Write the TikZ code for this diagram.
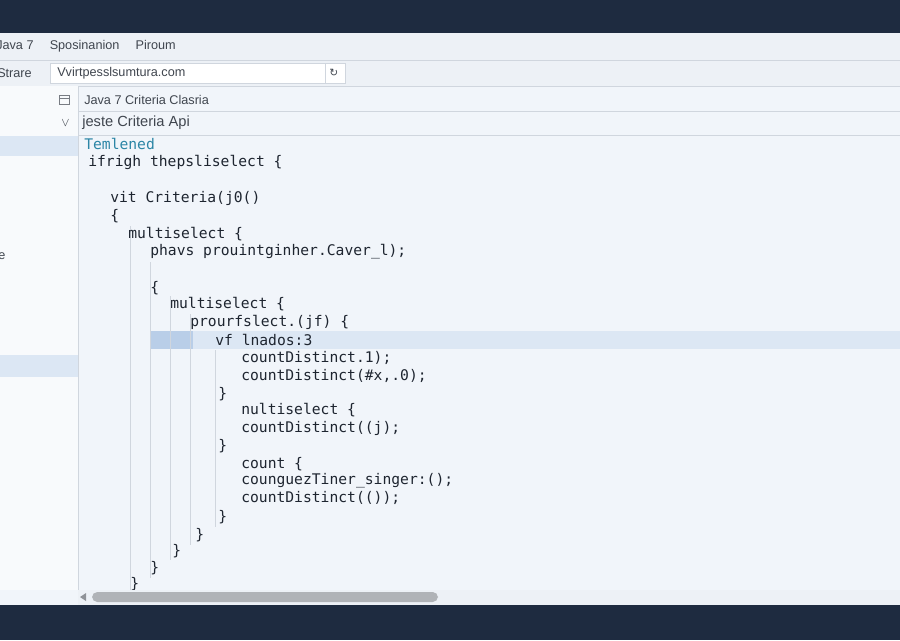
\documentclass[tikz,border=0pt]{standalone}
\usepackage{fontspec}
\setmainfont{Liberation Sans}
\newfontfamily\codefont{DejaVu Sans Mono}
\newfontfamily\symfont{DejaVu Sans}
\definecolor{navy}{HTML}{1E2B40}
\definecolor{barbg}{HTML}{EDF1F6}
\definecolor{panebg}{HTML}{F1F5FA}
\definecolor{sidebg}{HTML}{F8FAFC}
\definecolor{hilite}{HTML}{DCE7F4}
\definecolor{hidark}{HTML}{B9CEE8}
\definecolor{codeink}{HTML}{1E2530}
\definecolor{teal}{HTML}{2C86A6}
\definecolor{guide}{HTML}{D0D6DE}
\begin{document}
\begin{tikzpicture}[x=0.75pt,y=-0.75pt,
    code/.style={anchor=west,inner sep=0pt,font=\codefont\fontsize{11}{13}\selectfont,text=codeink},
    ui/.style={anchor=west,inner sep=0pt,font=\fontsize{9.5}{11}\selectfont,text=codeink!85},
    guideline/.style={guide,line width=0.6pt}]
  \useasboundingbox (0,0) rectangle (900,640);
  % window frame
  \fill[navy] (0,0) rectangle (900,640);
  \fill[panebg] (0,33) rectangle (900,605);
  \fill[barbg] (0,33) rectangle (900,86);
  \draw[guide] (0,60) -- (900,60) (0,86) -- (900,86);
  % menu and address bar
  \node[ui] (menu) at (-4,46) {Java 7 \quad Sposinanion \quad Piroum};
  \node[ui] (place) at (-3,73) {Strare};
  \draw[fill=white,draw=guide] (50,63) rectangle (345,83);
  \node[ui] (addr) at (57,73) {Vvirtpesslsumtura.com};
  \draw[guide] (325,63) -- (325,83);
  \node[ui] (reload) at (329,73) {\symfont\fontsize{8}{9}\selectfont ↻};
  % sidebar
  \fill[sidebg] (0,86) rectangle (78,590);
  \draw[guide] (78,86) -- (78,590);
  \fill[hilite] (0,136) rectangle (78,156);
  \fill[hilite] (0,355) rectangle (78,377);
  \node[ui] (sidee) at (-2,256) {e};
  % tabs
  \draw[codeink!60] (59,95) rectangle (69,104) (59,98) -- (69,98);
  \node[ui] (tab1) at (84,100) {Java 7 Criteria Clasria};
  \node[ui] (chev) at (61,123) {$\vee$};
  \node[ui,font=\fontsize{11}{13}\selectfont] (tab2) at (82,123) {jeste Criteria Api};
  \draw[guide] (78,111) -- (900,111) (78,135) -- (900,135);
  % highlighted line
  \fill[hilite] (150,331) rectangle (900,349);
  \fill[hidark] (150,331) rectangle (193,349);
  % indent guides
  \draw[guideline] (130,226) -- (130,590);
  \draw[guideline] (150,262) -- (150,578);
  \draw[guideline] (170,296) -- (170,560);
  \draw[guideline] (190,314) -- (190,545);
  \draw[guideline] (215,350) -- (215,527);
  % code
  \node[code,text=teal] (title) at (84,144) {Temlened};
  \node[code] (l1) at (88,162) {ifrigh thepsliselect \{};
  \node[code] (l2) at (110,198) {vit Criteria(j0()};
  \node[code] (l3) at (110,216) {\{};
  \node[code] (l4) at (128,234) {multiselect \{};
  \node[code] (l5) at (150,252) {phavs prouintginher.Caver\_l);};
  \node[code] (l6) at (150,288) {\{};
  \node[code] (l7) at (170,304) {multiselect \{};
  \node[code] (l8) at (190,322) {prourfslect.(jf) \{};
  \node[code] (l9) at (215,340) {vf lnados:3};
  \node[code] (l10) at (241,358) {countDistinct.1);};
  \node[code] (l11) at (241,376) {countDistinct(\#x,.0);};
  \node[code] (l12) at (218,394) {\}};
  \node[code] (l13) at (241,410) {nultiselect \{};
  \node[code] (l14) at (241,428) {countDistinct((j);};
  \node[code] (l15) at (218,446) {\}};
  \node[code] (l16) at (241,464) {count \{};
  \node[code] (l17) at (241,481) {counguezTiner\_singer:();};
  \node[code] (l18) at (241,498) {countDistinct(());};
  \node[code] (l19) at (218,517) {\}};
  \node[code] (l20) at (195,535) {\}};
  \node[code] (l21) at (172,551) {\}};
  \node[code] (l22) at (150,568) {\}};
  \node[code] (l23) at (130,584) {\}};
  % scrollbar
  \fill[barbg] (78,590) rectangle (900,605);
  \fill[codeink!35,rounded corners=4pt] (92,592) rectangle (438,602);
  \fill[codeink!50] (80,597) -- (86,593) -- (86,601) -- cycle;
\end{tikzpicture}
\end{document}
